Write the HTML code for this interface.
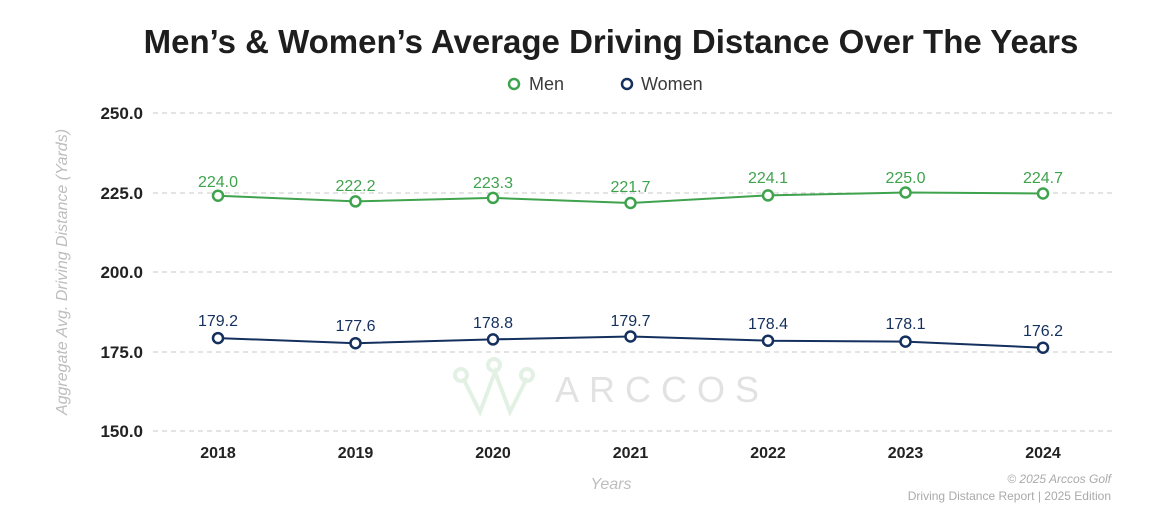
<!DOCTYPE html>
<html><head><meta charset="utf-8"><style>
body{margin:0;background:#fff;}
svg text{font-family:"Liberation Sans",sans-serif;}
</style></head><body>
<svg width="1166" height="526" viewBox="0 0 1166 526" xmlns="http://www.w3.org/2000/svg">
<rect width="1166" height="526" fill="#fff"/>
<text x="611" y="53" text-anchor="middle" font-size="33" font-weight="bold" fill="#1e1e1e">Men’s &amp; Women’s Average Driving Distance Over The Years</text>
<circle cx="514" cy="84" r="5" fill="none" stroke="#3fa34d" stroke-width="2.5"/>
<text x="529" y="90" font-size="18" fill="#3a3a3a">Men</text>
<circle cx="627" cy="84" r="5" fill="none" stroke="#14305e" stroke-width="2.5"/>
<text x="641" y="90" font-size="18" fill="#3a3a3a">Women</text>
<g stroke="#c8c8c8" stroke-dasharray="5,4" stroke-width="1">
<line x1="153" x2="1112" y1="113" y2="113"/><line x1="153" x2="1112" y1="193" y2="193"/>
<line x1="153" x2="1112" y1="272" y2="272"/><line x1="153" x2="1112" y1="352" y2="352"/>
<line x1="153" x2="1112" y1="431" y2="431"/></g>
<g font-size="17" font-weight="bold" fill="#222" text-anchor="end">
<text x="143" y="119">250.0</text><text x="143" y="199">225.0</text><text x="143" y="278">200.0</text><text x="143" y="358">175.0</text><text x="143" y="437">150.0</text></g>
<text transform="translate(67,272) rotate(-90)" text-anchor="middle" font-size="16" font-style="italic" fill="#bdbdbd">Aggregate Avg. Driving Distance (Yards)</text>
<g font-size="16" font-weight="bold" fill="#222" text-anchor="middle">
<text x="218" y="458">2018</text><text x="355.5" y="458">2019</text><text x="493" y="458">2020</text><text x="630.5" y="458">2021</text><text x="768" y="458">2022</text><text x="905.5" y="458">2023</text><text x="1043" y="458">2024</text></g>
<text x="611" y="489" text-anchor="middle" font-size="16" font-style="italic" fill="#bdbdbd">Years</text>
<text x="1111" y="483" text-anchor="end" font-size="12" font-style="italic" fill="#aaa">© 2025 Arccos Golf</text>
<text x="1111" y="500" text-anchor="end" font-size="12" fill="#aaa">Driving Distance Report | 2025 Edition</text>
<g stroke="#e3f1e5" stroke-width="4" fill="none">
<polyline points="463,378 480,412 495,372 510,412 527,378"/>
<circle cx="461" cy="375" r="6"/><circle cx="494" cy="365" r="6"/><circle cx="527" cy="375" r="6"/></g>
<text x="555" y="402" font-size="36" letter-spacing="10" fill="#e2e2e2">ARCCOS</text>
<polyline fill="none" stroke="#3fa34d" stroke-width="2" points="218,195.7 355.5,201.4 493,197.9 630.5,203 768,195.4 905.5,192.5 1043,193.5"/>
<polyline fill="none" stroke="#14305e" stroke-width="2" points="218,338.1 355.5,343.2 493,339.4 630.5,336.5 768,340.7 905.5,341.6 1043,347.7"/>
<g fill="#fff" stroke="#3fa34d" stroke-width="2.5">
<circle cx="218" cy="195.7" r="5"/><circle cx="355.5" cy="201.4" r="5"/><circle cx="493" cy="197.9" r="5"/><circle cx="630.5" cy="203" r="5"/><circle cx="768" cy="195.4" r="5"/><circle cx="905.5" cy="192.5" r="5"/><circle cx="1043" cy="193.5" r="5"/></g>
<g fill="#fff" stroke="#14305e" stroke-width="2.5">
<circle cx="218" cy="338.1" r="5"/><circle cx="355.5" cy="343.2" r="5"/><circle cx="493" cy="339.4" r="5"/><circle cx="630.5" cy="336.5" r="5"/><circle cx="768" cy="340.7" r="5"/><circle cx="905.5" cy="341.6" r="5"/><circle cx="1043" cy="347.7" r="5"/></g>
<g font-size="16" fill="#3fa34d" text-anchor="middle">
<text x="218" y="187">224.0</text><text x="355.5" y="191">222.2</text><text x="493" y="188">223.3</text><text x="630.5" y="192">221.7</text><text x="768" y="183">224.1</text><text x="905.5" y="183">225.0</text><text x="1043" y="183">224.7</text></g>
<g font-size="16" fill="#14305e" text-anchor="middle">
<text x="218" y="326">179.2</text><text x="355.5" y="331">177.6</text><text x="493" y="328">178.8</text><text x="630.5" y="326">179.7</text><text x="768" y="329">178.4</text><text x="905.5" y="329">178.1</text><text x="1043" y="336">176.2</text></g>
</svg>
</body></html>
